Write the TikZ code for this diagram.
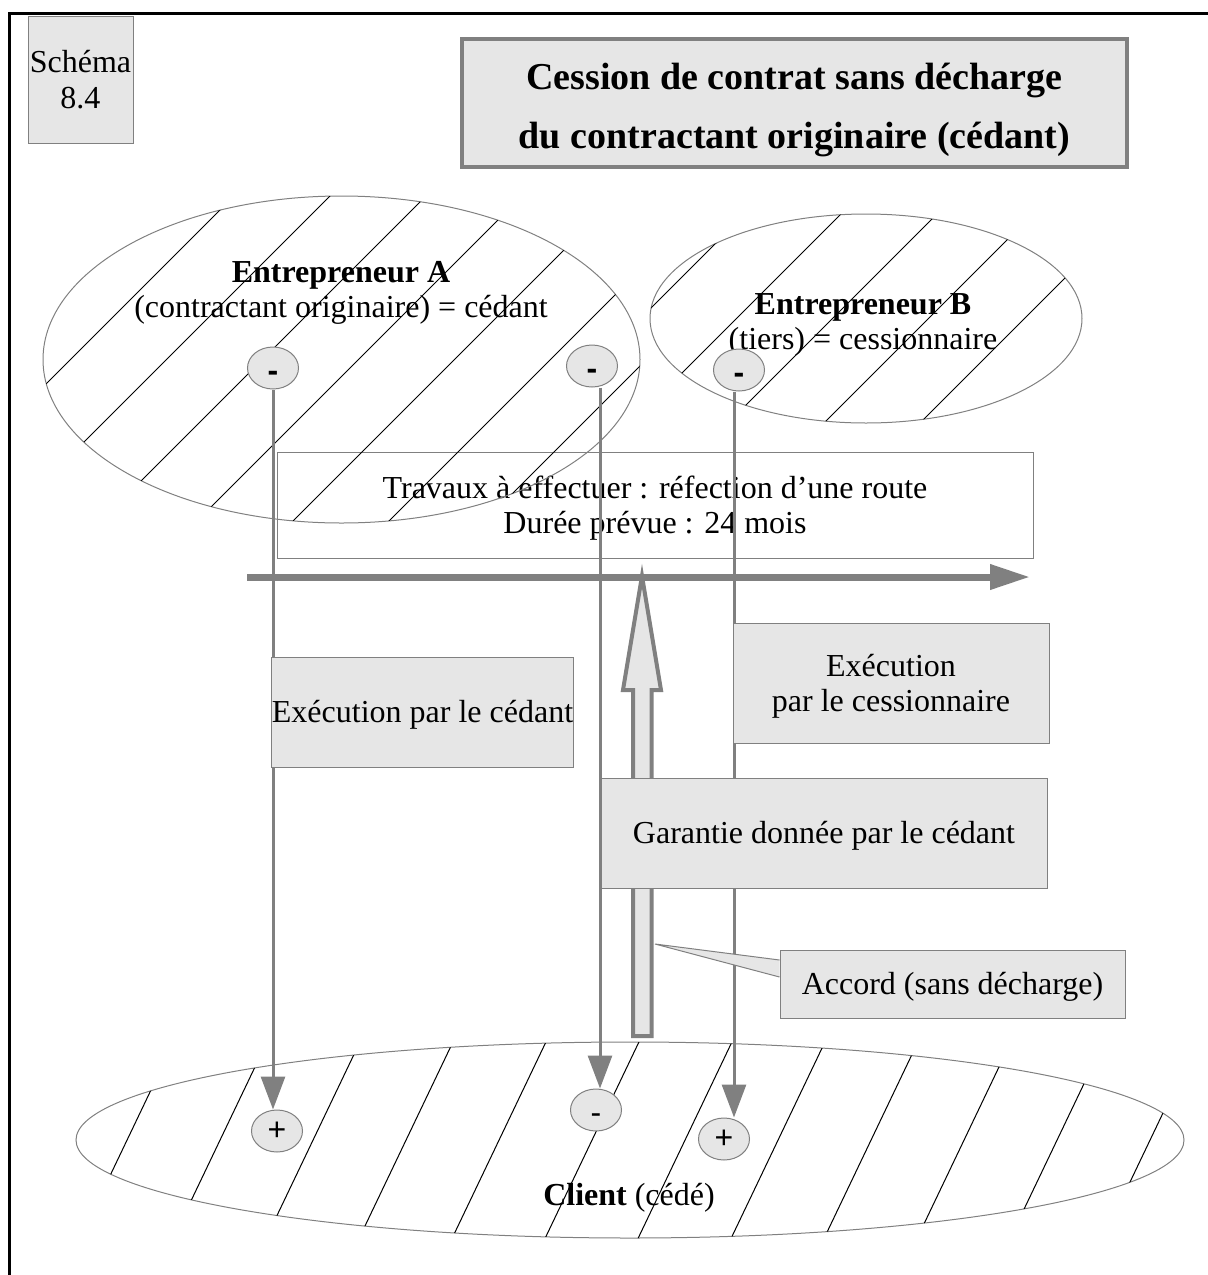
\documentclass[tikz,border=0pt]{standalone}
\usepackage{fontspec}
\setmainfont{Liberation Serif}
\newfontfamily\signfont{Liberation Sans}
\usetikzlibrary{arrows.meta,shapes.geometric}
\definecolor{panel}{HTML}{E6E6E6}
\definecolor{rule}{HTML}{808080}
% line strut: ascent and descent of the text font at 32pt
\newcommand\lnstrut{\rule[-6.9pt]{0pt}{35.4pt}}
\newcommand\headstrut{\rule[-8pt]{0pt}{48pt}}

\begin{document}
\begin{tikzpicture}[x=1pt,y=-1pt,
  txt/.style={font=\fontsize{32}{35.4}\selectfont, align=center},
  box/.style={draw=rule, line width=1pt, fill=panel, inner sep=0pt, txt},
  token/.style={ellipse, draw=rule, line width=1pt, fill=panel,
    minimum width=51pt, minimum height=42pt, inner sep=0pt,
    font=\signfont\fontsize{32}{36}\selectfont},
  minus/.style={token, text height=26pt, text depth=0pt},
  boldminus/.style={minus, font=\signfont\bfseries\fontsize{32}{36}\selectfont},
  party/.style={ellipse, draw=rule, line width=1pt, inner sep=0pt},
  hatch/.style={line width=1pt, black},
  link/.style={draw=rule, line width=3pt, -{Triangle[length=33pt,width=24pt]}},
]
\useasboundingbox (0,0) rectangle (1208,1275);

% outer frame (top and left rules only)
\draw[line width=3pt] (9,1275) -- (9,13) -- (1208,13);

% heading
\node[box, minimum width=105pt, minimum height=127pt] (schema) at (80.5,79.5)
  {\lnstrut Schéma\\\lnstrut 8.4};
\node[box, line width=4pt, minimum width=665pt, minimum height=128pt,
  font=\fontsize{38}{59}\selectfont\bfseries] (title) at (794.5,103)
  {\headstrut Cession de contrat sans décharge\\\headstrut du contractant originaire (cédant)};

% description of the works
\node[box, fill=white, minimum width=756pt, minimum height=106pt] (works) at (655,505)
  {\lnstrut Travaux à effectuer : réfection d’une route\\\lnstrut Durée prévue : 24 mois};

% the three parties
\node[party, minimum width=597pt, minimum height=327pt] (entA) at (341.5,359.5) {};
\node[party, minimum width=432pt, minimum height=209pt] (entB) at (866,318.5) {};
\node[party, minimum width=1108pt, minimum height=196pt] (client) at (630,1140) {};

\begin{scope}
  \clip (entA.center) ellipse [x radius=298.5, y radius=163.5];
  \foreach \c in {238,334,...,1198} \draw[hatch] (\c-650,650) -- (\c-100,100);
\end{scope}
\begin{scope}
  \clip (entB.center) ellipse [x radius=216, y radius=104.5];
  \foreach \c in {863,959,...,1500} \draw[hatch] (\c-500,500) -- (\c-150,150);
\end{scope}
\begin{scope}
  \clip (client.center) ellipse [x radius=554, y radius=98];
  \foreach \c in {579,672,...,1800} \draw[hatch] (\c-0.478*1260,1260) -- (\c-0.478*1020,1020);
\end{scope}

\node[txt] (entA-label) at (341,289)
  {\lnstrut\textbf{Entrepreneur A}\\\lnstrut(contractant originaire) = cédant};
\node[txt] (entB-label) at (863,321)
  {\lnstrut\textbf{Entrepreneur B}\\\lnstrut(tiers) = cessionnaire};
\node[txt] (client-label) at (629,1195) {\lnstrut\textbf{Client} (cédé)};

% time line
\coordinate (tl-start) at (247,577);
\coordinate (tl-end) at (1030,577);
\draw[draw=rule, line width=7pt, -{Triangle[length=40pt,width=24pt]}] (tl-start) -- (tl-end);

% debt / claim tokens
\node[boldminus] (a1) at (273,368) {-};
\node[boldminus] (a2) at (592,366) {-};
\node[boldminus] (b1) at (739,370) {-};
\node[token] (p1) at (277,1131) {+};
\node[minus] (m1) at (596,1110) {-};
\node[token] (p2) at (724,1139) {+};

\draw[link] (a1.south) -- (a1.south |- p1.north);
\draw[link] ([xshift=8pt]a2.south) -- ([xshift=8pt]a2.south |- m1.north);
\draw[link] ([xshift=-5pt]b1.south) -- ([xshift=-5pt]b1.south |- p2.north);

% hollow arrow of the agreement
\draw[draw=rule, fill=panel, line width=4pt, miter limit=10]
  (642,576) -- (661,690) -- (651.5,690) -- (651.5,1036) -- (633,1036) -- (633,690) -- (623,690) -- cycle;

% captions
\node[box, minimum width=301pt, minimum height=110pt] (exA) at (422.5,712)
  {\lnstrut Exécution par le cédant};
\node[box, minimum width=316pt, minimum height=120pt] (exB) at (891,683)
  {\lnstrut Exécution\\\lnstrut par le cessionnaire};
\node[box, minimum width=446pt, minimum height=110pt] (guar) at (824,833)
  {\lnstrut Garantie donnée par le cédant};
\node[box, minimum width=345pt, minimum height=68pt] (accord) at (952.5,984)
  {\lnstrut Accord (sans décharge)};
\coordinate (accord-tip) at (655,944);
\filldraw[draw=rule, fill=panel, line width=1pt]
  ([yshift=24pt]accord.west) -- (accord-tip) -- ([yshift=7pt]accord.west);
\end{tikzpicture}
\end{document}
